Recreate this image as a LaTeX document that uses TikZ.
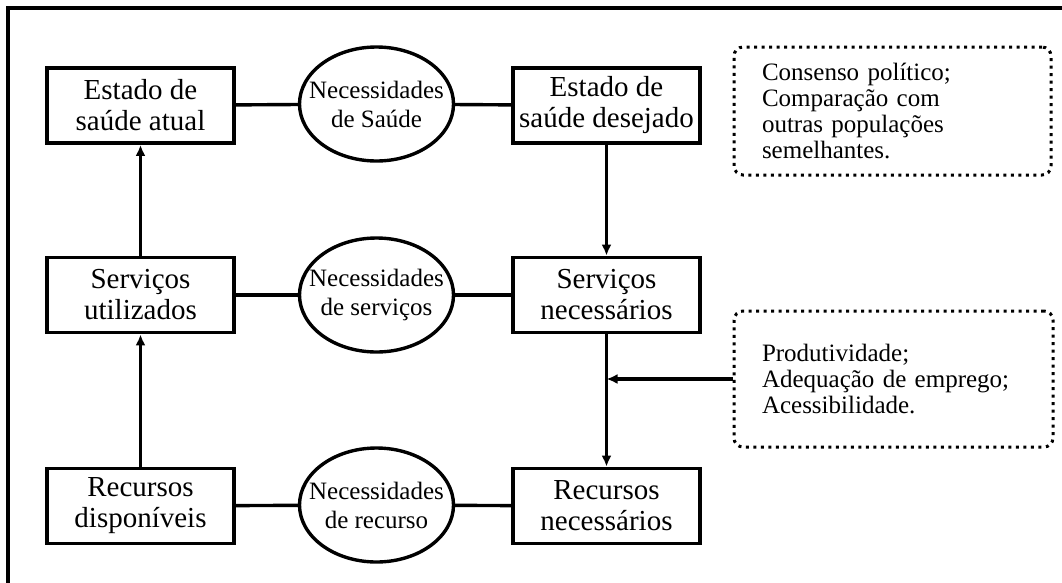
\documentclass[tikz,border=0pt]{standalone}
\usepackage{fontspec}
\setmainfont{Liberation Serif}
\usetikzlibrary{shapes.geometric,arrows.meta}

\tikzset{
    stbox/.style={draw, line width=3.8pt, minimum width=187pt, minimum height=75pt,
        inner sep=0pt, align=center, font=\fontsize{29}{31}\selectfont},
    need/.style={draw, ellipse, line width=3.4pt, minimum width=154pt, minimum height=114pt,
        inner xsep=-15pt, inner ysep=0pt, align=center, font=\fontsize{25}{29}\selectfont},
    note/.style={draw, dash pattern={on 3pt off 4.5pt}, line width=3pt, rounded corners=9pt,
        inner xsep=28pt, inner ysep=0pt, align=left, font=\fontsize{25}{25.8}\selectfont},
    link/.style={line width=3.4pt},
    flow/.style={line width=3.4pt, -{Latex[length=11pt,width=10pt]}}
}

\begin{document}
\begin{tikzpicture}[x=1pt, y=-1pt]
        \useasboundingbox (0,0) rectangle (1062,582);
        \clip (0,0) rectangle (1062,582);
        \fill[white] (0,0) rectangle (1062,582);
        \draw[line width=3.4pt] (8,8) rectangle (1120,640);

        % first row
        \node[stbox] (atual) at (140.5,105.5) {Estado de\\saúde atual};
        \node[need] (nsaude) at (376.5,104) {Necessidades\\de Saúde};
        \node[stbox] (desejado) at (606.5,105.5) {Estado de\\saúde desejado};

        % second row
        \node[stbox] (utilizados) at (140.5,295) {Serviços\\utilizados};
        \node[need] (nservicos) at (376.5,295) {Necessidades\\de serviços};
        \node[stbox] (snecessarios) at (606.5,295) {Serviços\\necessários};

        % third row
        \node[stbox] (disponiveis) at (140.5,506) {Recursos\\disponíveis};
        \node[need] (nrecurso) at (376.5,505) {Necessidades\\de recurso};
        \node[stbox] (rnecessarios) at (606.5,506) {Recursos\\necessários};

        % notes
        \node[note, text width=261pt, minimum height=128pt] (politica) at (892.5,111)
            {Consenso político;\\Comparação com\\outras populações\\semelhantes.};
        \node[note, text width=263pt, minimum height=136pt] (acesso) at (893.5,379)
            {Produtividade;\\Adequação de emprego;\\Acessibilidade.};

        \draw[link] (atual) -- (nsaude) -- (desejado);
        \draw[link] (utilizados) -- (nservicos) -- (snecessarios);
        \draw[link] (disponiveis) -- (nrecurso) -- (rnecessarios);

        \draw[flow] (disponiveis) -- (utilizados);
        \draw[flow] (utilizados) -- (atual);
        \draw[flow] (desejado) -- (snecessarios);
        \draw[flow] (snecessarios) -- (rnecessarios);
        \draw[flow] (acesso.west) -- (acesso.west -| snecessarios.south);
\end{tikzpicture}
\end{document}
